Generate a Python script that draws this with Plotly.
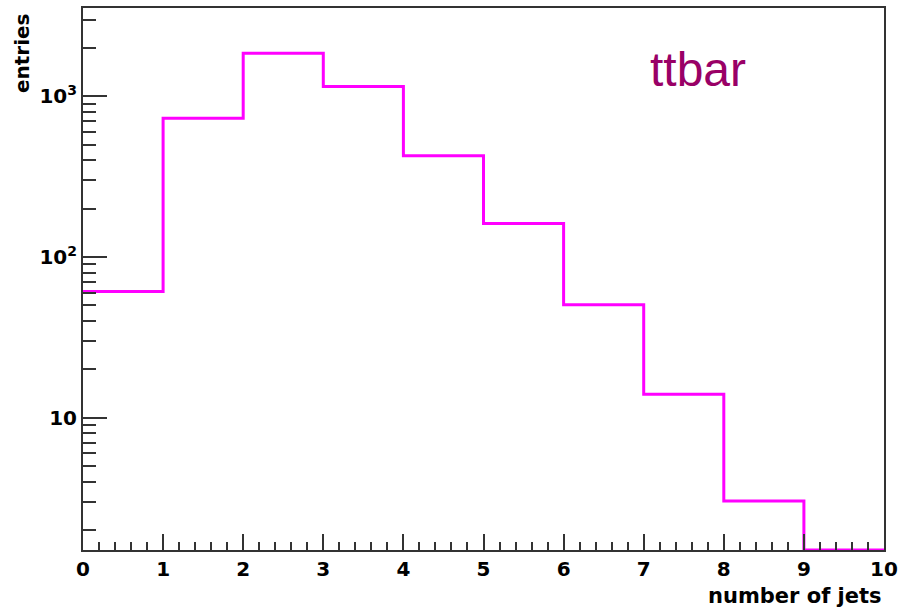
import numpy as np
import plotly.graph_objects as go

# Jet multiplicity histogram for ttbar events (bin edges 0..10)
bin_edges = [0, 1, 2, 3, 4, 5, 6, 7, 8, 9, 10]
entries = [61, 733, 1860, 1154, 428, 162, 50.5, 14, 3.03, 0]

y_min, y_max = 1.5, 3556
x_min, x_max = 0, 10

# Empty bins are drawn along the lower edge of the frame, as ROOT does
drawn = np.maximum(np.array(entries, dtype=float), y_min)
step_y = list(drawn) + [drawn[-1]]

fig = go.Figure()
fig.add_trace(go.Scatter(
    x=bin_edges, y=step_y, mode="lines",
    line=dict(color="#ff00ff", width=3, shape="hv"),
    showlegend=False, hoverinfo="skip",
))

tick_font = dict(family="DejaVu Sans", size=20, color="black", weight="bold")
axis_col = "#333333"

fig.update_layout(
    width=899, height=608,
    margin=dict(l=83, r=15, t=8, b=58),
    paper_bgcolor="white", plot_bgcolor="white",
    xaxis=dict(
        range=[x_min, x_max], showgrid=False, zeroline=False, automargin=False,
        showline=True, linecolor=axis_col, linewidth=2, mirror=True,
        ticks="inside", ticklen=16, tickwidth=1.5, tickcolor=axis_col,
        tick0=0, dtick=1, tickfont=tick_font,
        minor=dict(ticks="inside", ticklen=8, tickwidth=1.5, tickcolor=axis_col, dtick=0.2),
    ),
    yaxis=dict(
        type="log", range=[np.log10(y_min), np.log10(y_max)],
        showgrid=False, zeroline=False, automargin=False,
        showline=True, linecolor=axis_col, linewidth=2, mirror=True,
        ticks="inside", ticklen=24, tickwidth=1.5, tickcolor=axis_col,
        tickvals=[10, 100, 1000], ticktext=["10", "10<sup>2</sup>", "10<sup>3</sup>"],
        tickfont=tick_font,
        minor=dict(ticks="inside", ticklen=13, tickwidth=1.5, tickcolor=axis_col, dtick="D1"),
    ),
    annotations=[
        dict(text="<b>entries</b>", xref="paper", yref="paper",
             x=-0.077, y=0.995, xanchor="center", yanchor="top", textangle=-90,
             showarrow=False, font=dict(family="DejaVu Sans", size=20, color="black")),
        dict(text="<b>number of jets</b>", xref="paper", yref="paper",
             x=1.0, y=-0.084, xanchor="right", yanchor="middle",
             showarrow=False, font=dict(family="DejaVu Sans", size=21, color="black")),
        dict(text="ttbar", xref="paper", yref="paper",
             x=0.768, y=0.887, xanchor="center", yanchor="middle",
             showarrow=False, font=dict(family="Liberation Sans", size=48, color="#990066")),
    ],
)

fig.write_html("out.html")
